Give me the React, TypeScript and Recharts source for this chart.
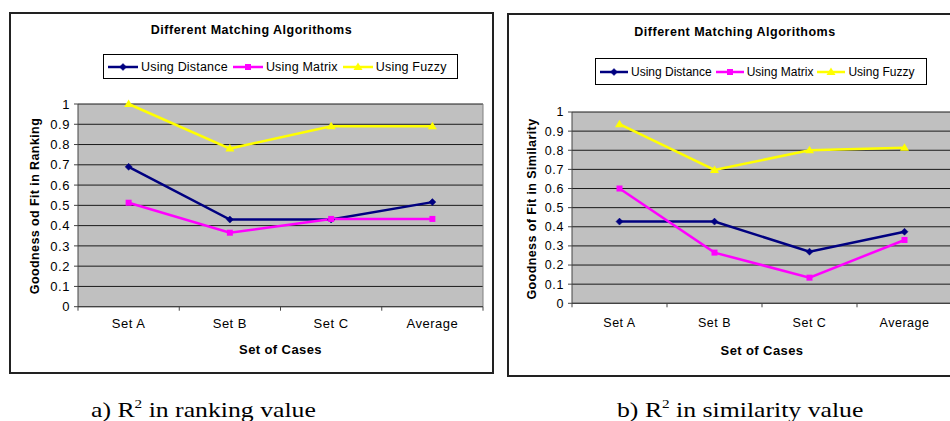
import React from 'react';
import { LineChart, Line, XAxis, YAxis, CartesianGrid, ReferenceLine, Legend } from 'recharts';

const categories = ['Set A', 'Set B', 'Set C', 'Average'];
const seriesNames = ['Using Distance', 'Using Matrix', 'Using Fuzzy'];
const seriesColors = ['#000080', '#FF00FF', '#FFFF00'];

const rankingDistance = [0.69, 0.43, 0.43, 0.516];
const rankingMatrix = [0.513, 0.365, 0.433, 0.433];
const rankingFuzzy = [1.0, 0.78, 0.89, 0.89];

const similarityDistance = [0.427, 0.427, 0.27, 0.374];
const similarityMatrix = [0.6, 0.265, 0.134, 0.331];
const similarityFuzzy = [0.936, 0.697, 0.8, 0.813];

const yTicks = [0, 0.1, 0.2, 0.3, 0.4, 0.5, 0.6, 0.7, 0.8, 0.9, 1];
const yTickLabels = ['0', '0.1', '0.2', '0.3', '0.4', '0.5', '0.6', '0.7', '0.8', '0.9', '1'];

const chartTitle = 'Different Matching Algorithoms';
const xTitle = 'Set of Cases';

const FONT = '"Liberation Sans", Arial, sans-serif';

function buildRows(d: number[], m: number[], f: number[]) {
  return categories.map((c, i) => ({ name: c, x: i + 0.5, distance: d[i], matrix: m[i], fuzzy: f[i] }));
}

function Marker({ kind, cx, cy, color }: { kind: number; cx: number; cy: number; color: string }) {
  if (kind === 0) {
    return <path d={`M${cx},${cy - 3.5}L${cx + 3.5},${cy}L${cx},${cy + 3.5}L${cx - 3.5},${cy}Z`} fill={color} stroke={color} strokeWidth={0.5} />;
  }
  if (kind === 1) {
    return <rect x={cx - 3} y={cy - 3} width={6} height={6} fill={color} />;
  }
  return <path d={`M${cx},${cy - 4.5}L${cx + 4.5},${cy + 3}L${cx - 4.5},${cy + 3}Z`} fill={color} />;
}

type PanelCfg = {
  box: { left: number; top: number; width: number; height: number };
  plot: { left: number; top: number; width: number; height: number };
  titleY: number;
  legend: { left: number; top: number; width: number; height: number; line: number; font: number; spacing: number; gap: number };
  yTitle: { x: number; y: number; text: string };
  xTitleY: number;
  labelOffset: number;
  fontSize: number;
};

function Panel({ cfg, rows }: { cfg: PanelCfg; rows: any[] }) {
  const border = 2;
  const iw = cfg.box.width - 2 * border;
  const ih = cfg.box.height - 2 * border;
  const rightM = iw - cfg.plot.left - cfg.plot.width;
  const xAxisH = ih - cfg.plot.top - cfg.plot.height;
  const boundaryTicks = [0, ...categories.map((_, i) => i + 1)];
  const ticks: number[] = [];
  boundaryTicks.forEach((b, i) => {
    ticks.push(b);
    if (i < categories.length) ticks.push(b + 0.5);
  });

  const XTick = (p: any) => {
    const { x, y, payload } = p;
    const v = payload.value;
    if (Number.isInteger(v)) {
      return <line x1={x} x2={x} y1={y} y2={y + 4} stroke="#444" strokeWidth={1} />;
    }
    return (
      <text x={x} y={y + cfg.labelOffset} textAnchor="middle" dominantBaseline="central" fontFamily={FONT} fontSize={cfg.fontSize} letterSpacing={0.5} fill="#000">
        {categories[Math.floor(v)]}
      </text>
    );
  };

  const dotFor = (kind: number, color: string) => (p: any) => (
    <Marker key={`${kind}-${p.index}`} kind={kind} cx={p.cx} cy={p.cy} color={color} />
  );

  const legendContent = () => (
    <div
      style={{
        boxSizing: 'border-box',
        width: cfg.legend.width,
        height: cfg.legend.height,
        border: '1px solid #000',
        background: '#fff',
        display: 'flex',
        alignItems: 'center',
        paddingLeft: 4,
        fontFamily: FONT,
        fontSize: cfg.legend.font,
        letterSpacing: cfg.legend.spacing,
        whiteSpace: 'nowrap',
        overflow: 'hidden',
      }}
    >
      {seriesNames.map((n, i) => (
        <div key={n} style={{ display: 'flex', alignItems: 'center', marginRight: cfg.legend.gap }}>
          <svg width={cfg.legend.line} height={10} style={{ marginRight: 3 }}>
            <line x1={0} x2={cfg.legend.line} y1={5} y2={5} stroke={seriesColors[i]} strokeWidth={2.5} />
            <Marker kind={i} cx={cfg.legend.line / 2} cy={5} color={seriesColors[i]} />
          </svg>
          <span>{n}</span>
        </div>
      ))}
    </div>
  );

  return (
    <div
      style={{
        position: 'absolute',
        left: cfg.box.left,
        top: cfg.box.top,
        width: cfg.box.width,
        height: cfg.box.height,
        boxSizing: 'border-box',
        border: `${border}px solid #222`,
        background: '#fff',
      }}
    >
      <div
        style={{
          position: 'absolute',
          left: 0,
          width: iw,
          top: cfg.titleY,
          transform: 'translateY(-50%)',
          textAlign: 'center',
          fontFamily: FONT,
          fontWeight: 'bold',
          fontSize: 12.5,
          letterSpacing: 0.5,
        }}
      >
        {chartTitle}
      </div>
      <LineChart width={iw} height={ih} data={rows} margin={{ top: cfg.plot.top, right: rightM, bottom: 0, left: 0 }}>
        <CartesianGrid horizontal vertical={false} stroke="#1a1a1a" fill="#C0C0C0" fillOpacity={1} />
        <XAxis
          dataKey="x"
          type="number"
          domain={[0, categories.length]}
          ticks={ticks}
          interval={0}
          tickSize={0}
          tickMargin={0}
          tickLine={false}
          tick={XTick}
          height={xAxisH}
          axisLine={{ stroke: '#444' }}
        />
        <YAxis
          type="number"
          domain={[0, 1]}
          ticks={yTicks}
          interval={0}
          width={cfg.plot.left}
          tickSize={4}
          tickMargin={4}
          tickFormatter={(v: number) => yTickLabels[yTicks.indexOf(v)] ?? String(v)}
          tick={{ fill: '#000', fontSize: cfg.fontSize, fontFamily: FONT, letterSpacing: 0.6 }}
          tickLine={{ stroke: '#444' }}
          axisLine={{ stroke: '#444' }}
        />
        <ReferenceLine x={categories.length} stroke="#808080" />
        <Legend verticalAlign="middle" align="center" layout="horizontal" content={legendContent}
          wrapperStyle={{ left: cfg.legend.left, top: cfg.legend.top, width: cfg.legend.width, height: cfg.legend.height }} />
        <Line dataKey="distance" name={seriesNames[0]} stroke={seriesColors[0]} strokeWidth={2.5} dot={dotFor(0, seriesColors[0])} isAnimationActive={false} />
        <Line dataKey="matrix" name={seriesNames[1]} stroke={seriesColors[1]} strokeWidth={2.5} dot={dotFor(1, seriesColors[1])} isAnimationActive={false} />
        <Line dataKey="fuzzy" name={seriesNames[2]} stroke={seriesColors[2]} strokeWidth={2.5} dot={dotFor(2, seriesColors[2])} isAnimationActive={false} />
      </LineChart>
      <div
        style={{
          position: 'absolute',
          left: cfg.yTitle.x,
          top: cfg.yTitle.y,
          transform: 'translate(-50%, -50%) rotate(-90deg)',
          whiteSpace: 'nowrap',
          fontFamily: FONT,
          fontWeight: 'bold',
          fontSize: 12.5,
          letterSpacing: 0.4,
        }}
      >
        {cfg.yTitle.text}
      </div>
      <div
        style={{
          position: 'absolute',
          left: cfg.plot.left,
          width: cfg.plot.width,
          top: cfg.xTitleY,
          transform: 'translateY(-50%)',
          textAlign: 'center',
          fontFamily: FONT,
          fontWeight: 'bold',
          fontSize: 13,
          letterSpacing: 0.4,
        }}
      >
        {xTitle}
      </div>
    </div>
  );
}

const leftCfg: PanelCfg = {
  box: { left: 9, top: 12, width: 485, height: 362 },
  plot: { left: 67, top: 90, width: 405, height: 202.7 },
  titleY: 16,
  legend: { left: 92, top: 40, width: 355, height: 25, line: 30, font: 12.5, spacing: 0.2, gap: 5 },
  yTitle: { x: 24, y: 192, text: 'Goodness od Fit in Ranking' },
  xTitleY: 335,
  labelOffset: 17,
  fontSize: 13,
};

const rightCfg: PanelCfg = {
  box: { left: 507, top: 13, width: 456, height: 364 },
  plot: { left: 63, top: 97, width: 380, height: 191.3 },
  titleY: 17,
  legend: { left: 86, top: 43, width: 332, height: 27, line: 28, font: 12, spacing: 0, gap: 4 },
  yTitle: { x: 23, y: 194, text: 'Goodness of Fit in Similarity' },
  xTitleY: 335,
  labelOffset: 20,
  fontSize: 12.5,
};

function Caption({ left, prefix, rest }: { left: number; prefix: string; rest: string }) {
  return (
    <div
      style={{
        position: 'absolute',
        left,
        top: 410,
        transform: 'translateY(-50%) scaleX(1.17)',
        transformOrigin: 'left center',
        fontFamily: '"Liberation Serif", "Times New Roman", serif',
        fontSize: 22,
        whiteSpace: 'nowrap',
        color: '#000',
      }}
    >
      {prefix}R<sup style={{ fontSize: 13, verticalAlign: 'top', lineHeight: '14px' }}>2</sup>
      {rest}
    </div>
  );
}

export default function App() {
  const rankRows = buildRows(rankingDistance, rankingMatrix, rankingFuzzy);
  const simRows = buildRows(similarityDistance, similarityMatrix, similarityFuzzy);
  return (
    <div style={{ position: 'absolute', left: 0, top: 0, width: 950, height: 421, overflow: 'hidden', background: '#fff' }}>
      <Panel cfg={leftCfg} rows={rankRows} />
      <Panel cfg={rightCfg} rows={simRows} />
      <Caption left={91} prefix="a) " rest=" in ranking value" />
      <Caption left={617} prefix="b) " rest=" in similarity value" />
    </div>
  );
}
